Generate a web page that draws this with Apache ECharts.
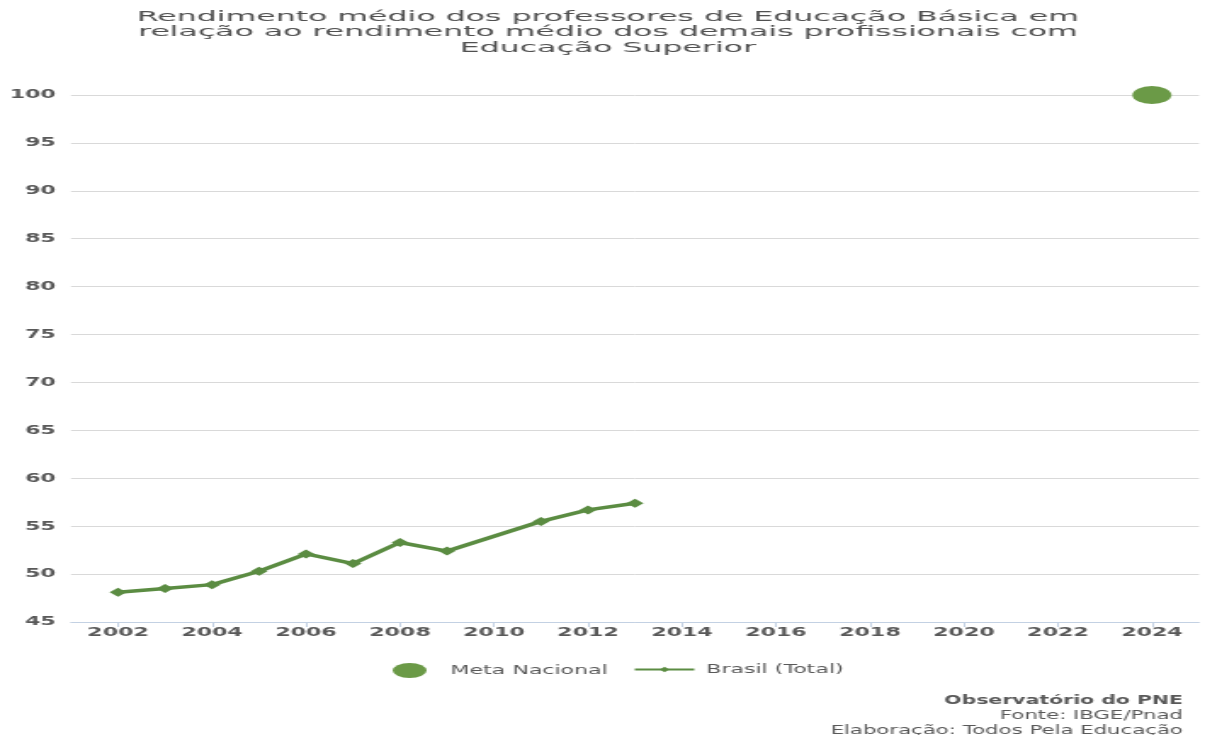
<!DOCTYPE html>
<html>
<head>
<meta charset="utf-8">
<script src="https://cdn.jsdelivr.net/npm/echarts@6/dist/echarts.min.js"></script>
<style>
  html, body { margin: 0; padding: 0; background: #fff; overflow: hidden; }
  #wrap { width: 1205px; height: 735px; overflow: hidden; }
  #chart { width: 709px; height: 735px; transform-origin: 0 0; transform: scaleX(1.6996); }
</style>
</head>
<body>
<div id="wrap"><div id="chart"></div></div>
<script>
// ---- data ----
const titleLines = [
  'Rendimento médio dos professores de Educação Básica em',
  'relação ao rendimento médio dos demais profissionais com',
  'Educação Superior'
];
const years = ['2001','2002','2003','2004','2005','2006','2007','2008','2009','2010','2011','2012','2013',
  '2014','2015','2016','2017','2018','2019','2020','2021','2022','2023','2024','2025'];
const brasilYears = ['2002','2003','2004','2005','2006','2007','2008','2009','2011','2012','2013'];
const brasilValues = [48.1, 48.5, 48.9, 50.3, 52.1, 51.1, 53.3, 52.4, 55.5, 56.7, 57.4];
const metaYears = ['2024'];
const metaValues = [100];
const seriesNames = ['Meta Nacional', 'Brasil (Total)'];
const sourceLines = ['Observatório do PNE', 'Fonte: IBGE/Pnad', 'Elaboração: Todos Pela Educação'];

// ---- build ----
function toSeries(ys, vs) {
  return years.map(y => { const i = ys.indexOf(y); return i >= 0 ? vs[i] : null; });
}
const ellipse = 'path://M0,1 A1,1 0 1,1 2,1 A1,1 0 1,1 0,1 Z';
const txt = '#595959';
const font = 'DejaVu Sans';
const evenYear = (idx, val) => (+val) % 2 === 0;

const chart = echarts.init(document.getElementById('chart'), null, { renderer: 'canvas' });
chart.setOption({
  backgroundColor: '#ffffff',
  animation: false,
  textStyle: { fontFamily: font },
  grid: { left: 41.8, right: 3.6, top: 95, bottom: 113, containLabel: false },
  xAxis: {
    type: 'category',
    data: years,
    boundaryGap: false,
    axisLine: { lineStyle: { color: '#c3d1e3', width: 1 } },
    axisTick: { show: true, interval: evenYear, length: 5, lineStyle: { color: '#c3d1e3' } },
    axisLabel: { interval: evenYear, color: txt, fontSize: 13, fontWeight: 'bold', margin: 4, fontFamily: font },
    splitLine: { show: false }
  },
  yAxis: {
    type: 'value',
    min: 45, max: 100, interval: 5,
    axisLine: { show: false },
    axisTick: { show: false },
    axisLabel: { color: txt, fontSize: 13, fontWeight: 'bold', margin: 9, fontFamily: font },
    splitLine: { lineStyle: { color: '#d9d9d9', width: 1 } }
  },
  legend: [
    {
      data: [{ name: seriesNames[0], icon: ellipse }],
      left: 231, top: 663, padding: 0,
      itemWidth: 20, itemHeight: 15, itemGap: 12,
      symbolKeepAspect: false,
      textStyle: { color: txt, fontSize: 13, fontFamily: font, padding: [0, 0, 0, 9] }
    },
    {
      data: [seriesNames[1]],
      left: 372.5, top: 663, padding: 0,
      itemWidth: 35, itemHeight: 7, itemGap: 12,
      itemStyle: { borderWidth: 0 },
      textStyle: { color: txt, fontSize: 13, fontFamily: font, padding: [0, 0, 0, 2] }
    }
  ],
  series: [
    {
      name: seriesNames[0],
      type: 'line',
      data: toSeries(metaYears, metaValues),
      symbol: ellipse,
      symbolSize: [23, 18],
      showAllSymbol: true,
      lineStyle: { width: 0 },
      itemStyle: { color: '#6b9a47' },
      z: 3
    },
    {
      name: seriesNames[1],
      type: 'line',
      data: toSeries(brasilYears, brasilValues),
      connectNulls: true,
      symbol: 'diamond',
      symbolSize: [10, 9],
      showAllSymbol: true,
      lineStyle: { width: 3.5, color: '#5b8c42' },
      itemStyle: { color: '#5b8c42' },
      z: 4
    }
  ],
  graphic: [
    {
      type: 'text', x: 357.7, y: 9, scaleX: 1.28,
      style: {
        text: titleLines.join('\n'),
        fill: '#505050', font: '14.5px "DejaVu Sans"', lineHeight: 15.5,
        textAlign: 'center', textVerticalAlign: 'top'
      }
    },
    {
      type: 'text', x: 696, y: 693,
      style: {
        text: '{b|' + sourceLines[0] + '}\n' + sourceLines[1] + '\n' + sourceLines[2],
        fill: txt, font: '12.5px "DejaVu Sans"', lineHeight: 15,
        textAlign: 'right', textVerticalAlign: 'top',
        rich: { b: { fontWeight: 'bold', fontSize: 12, fontFamily: font, fill: txt, lineHeight: 15 } }
      }
    }
  ]
});
</script>
</body>
</html>
